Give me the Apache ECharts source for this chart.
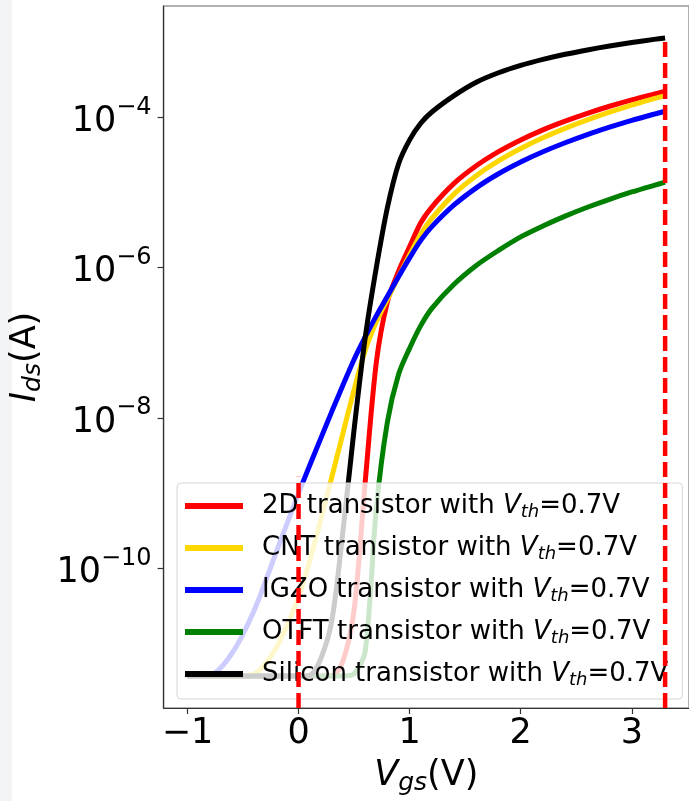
<!DOCTYPE html>
<html><head><meta charset="utf-8">
<script src="https://cdn.jsdelivr.net/npm/echarts@6/dist/echarts.min.js"></script>
<style>html,body{margin:0;padding:0;background:#fff}#c{width:689px;height:801px}</style>
</head><body><div id="c"></div>
<script>
// Gate voltage grid (V)
const vgs = [-1, -0.8, -0.6, -0.4, -0.2, 0, 0.1, 0.2, 0.3, 0.4, 0.5, 0.6, 0.7, 0.8, 0.9, 1.0, 1.1, 1.2, 1.4, 1.6, 1.8, 2.0, 2.2, 2.4, 2.6, 2.8, 3.0, 3.2, 3.3];
// log10(Ids)
const F = -11.43;
const log2D      = [F, F, F, F, F, F, F, F, F, -11.23, -10.55, -8.85, -7.26, -6.45, -6.05, -5.72, -5.402, -5.193, -4.879, -4.645, -4.457, -4.301, -4.167, -4.051, -3.947, -3.853, -3.768, -3.691, -3.654];
const logCNT     = [F, F, F, -11.40, -11.05, -10.38, -9.90, -9.35, -8.78, -8.20, -7.62, -7.10, -6.72, -6.42, -6.12, -5.83, -5.557, -5.344, -5.021, -4.778, -4.581, -4.416, -4.273, -4.148, -4.035, -3.932, -3.838, -3.752, -3.711];
const logIGZO    = [F, -11.42, -11.13, -10.56, -9.78, -9.00, -8.63, -8.27, -7.91, -7.56, -7.22, -6.92, -6.64, -6.38, -6.12, -5.87, -5.637, -5.454, -5.166, -4.938, -4.751, -4.594, -4.458, -4.338, -4.230, -4.132, -4.041, -3.958, -3.919];
const logOTFT    = [F, F, F, F, F, F, F, F, F, F, -11.40, -11.10, -9.20, -8.05, -7.42, -7.07, -6.77, -6.54, -6.22, -5.97, -5.77, -5.59, -5.445, -5.314, -5.196, -5.090, -4.993, -4.905, -4.863];
const logSilicon = [F, F, F, F, F, F, -11.42, -11.20, -10.69, -9.50, -8.15, -6.93, -6.00, -5.20, -4.62, -4.30, -4.08, -3.93, -3.712, -3.534, -3.408, -3.310, -3.230, -3.162, -3.104, -3.052, -3.006, -2.964, -2.945];

const seriesNames = ['2D transistor', 'CNT transistor', 'IGZO transistor', 'OTFT transistor', 'Silicon transistor'];
const seriesLogs = [log2D, logCNT, logIGZO, logOTFT, logSilicon];
const colors = ['#ff0000', '#ffd700', '#0000ff', '#008000', '#000000'];

const xTicks = [-1, 0, 1, 2, 3];
const yTicks = [1e-10, 1e-8, 1e-6, 1e-4];

// vertical dashed markers: x position and top exponent
const vLineX = [0, 3.3];
const vLineTopExp = [-8.78, -2.93];

const X_MIN = -1.215, X_MAX = 3.515;
const Y_MIN = Math.pow(10, -11.855), Y_MAX = Math.pow(10, -2.52);

const FONT = 'DejaVu Sans';

const series = seriesNames.map((n, k) => ({
  name: n,
  type: 'line',
  data: vgs.map((v, i) => [v, Math.pow(10, seriesLogs[k][i])]),
  showSymbol: false,
  symbol: 'none',
  smooth: 0.3,
  lineStyle: { color: colors[k], width: 5, cap: 'butt' },
  itemStyle: { color: colors[k] },
  emphasis: { disabled: true },
  z: 2
}));
vLineX.forEach((x, k) => {
  series.push({
    name: 'marker' + k,
    type: 'line',
    data: [[x, Y_MIN], [x, Math.pow(10, vLineTopExp[k])]],
    showSymbol: false,
    symbol: 'none',
    lineStyle: { color: '#ff0000', width: 4.5, type: [15, 6] },
    emphasis: { disabled: true },
    z: 10
  });
});

const chart = echarts.init(document.getElementById('c'), null, { renderer: 'canvas' });
chart.setOption({
  animation: false,
  backgroundColor: '#ffffff',
  graphic: [
    { type: 'rect', left: 0, top: 0, shape: { width: 12, height: 801 }, style: { fill: '#f3f4f6' }, z: -1 }
  ],
  grid: { left: 160, top: 6, width: 536, height: 705, show: true, borderColor: '#999', borderWidth: 1.5, backgroundColor: 'transparent' },
  xAxis: {
    type: 'value', min: X_MIN, max: X_MAX,
    axisLine: { onZero: false, lineStyle: { color: '#333', width: 1.2 } },
    axisTick: { show: true, length: 6, lineStyle: { color: '#333', width: 1.2 }, customValues: xTicks },
    axisLabel: {
      customValues: xTicks, fontFamily: FONT, fontSize: 35, color: '#000', margin: 8,
      formatter: v => (v < 0 ? '\u2212' + Math.abs(v) : String(v))
    },
    splitLine: { show: false },
    name: '{i|V}{sub|gs}{n|(V)}',
    nameLocation: 'middle', nameGap: 48,
    nameTextStyle: {
      fontFamily: FONT, color: '#000',
      rich: {
        i: { fontFamily: FONT, fontStyle: 'italic', fontSize: 35, lineHeight: 40 },
        sub: { fontFamily: FONT, fontStyle: 'italic', fontSize: 25, lineHeight: 22, verticalAlign: 'bottom' },
        n: { fontFamily: FONT, fontSize: 35, lineHeight: 40 }
      }
    }
  },
  yAxis: {
    type: 'log', logBase: 10, min: Y_MIN, max: Y_MAX,
    axisLine: { show: true, onZero: false, lineStyle: { color: '#333', width: 1.2 } },
    axisTick: { show: true, length: 6, lineStyle: { color: '#333', width: 1.2 }, customValues: yTicks },
    axisLabel: {
      customValues: yTicks, margin: 12, color: '#000',
      formatter: v => '{b|10}{s|\u2212' + Math.abs(Math.round(Math.log10(v))) + '}',
      rich: {
        b: { fontFamily: FONT, fontSize: 35, lineHeight: 44, verticalAlign: 'bottom' },
        s: { fontFamily: FONT, fontSize: 24, lineHeight: 24, verticalAlign: 'top' }
      }
    },
    splitLine: { show: false },
    minorTick: { show: false },
    name: '{i|I}{sub|ds}{n|(A)}',
    nameLocation: 'middle', nameGap: 112, nameRotate: 90,
    nameTextStyle: {
      fontFamily: FONT, color: '#000',
      rich: {
        i: { fontFamily: FONT, fontStyle: 'italic', fontSize: 35, lineHeight: 40 },
        sub: { fontFamily: FONT, fontStyle: 'italic', fontSize: 25, lineHeight: 22, verticalAlign: 'bottom' },
        n: { fontFamily: FONT, fontSize: 35, lineHeight: 40 }
      }
    }
  },
  legend: {
    data: seriesNames,
    orient: 'vertical',
    left: 177, top: 483,
    padding: [8, 14, 10, 8],
    itemGap: 12,
    itemWidth: 58, itemHeight: 6,
    icon: 'rect',
    backgroundColor: 'rgba(255,255,255,0.8)',
    borderColor: '#d6d6d6', borderWidth: 1, borderRadius: 4,
    selectedMode: false,
    formatter: name => name + ' with {i|V}{sub|th}=0.7V',
    textStyle: {
      fontFamily: FONT, fontSize: 26, color: '#000', lineHeight: 30, padding: [0, 0, 0, 14],
      rich: {
        i: { fontFamily: FONT, fontStyle: 'italic', fontSize: 26, lineHeight: 30 },
        sub: { fontFamily: FONT, fontStyle: 'italic', fontSize: 18, lineHeight: 17, verticalAlign: 'bottom' }
      }
    }
  },
  series: series
});
</script>
</body></html>
